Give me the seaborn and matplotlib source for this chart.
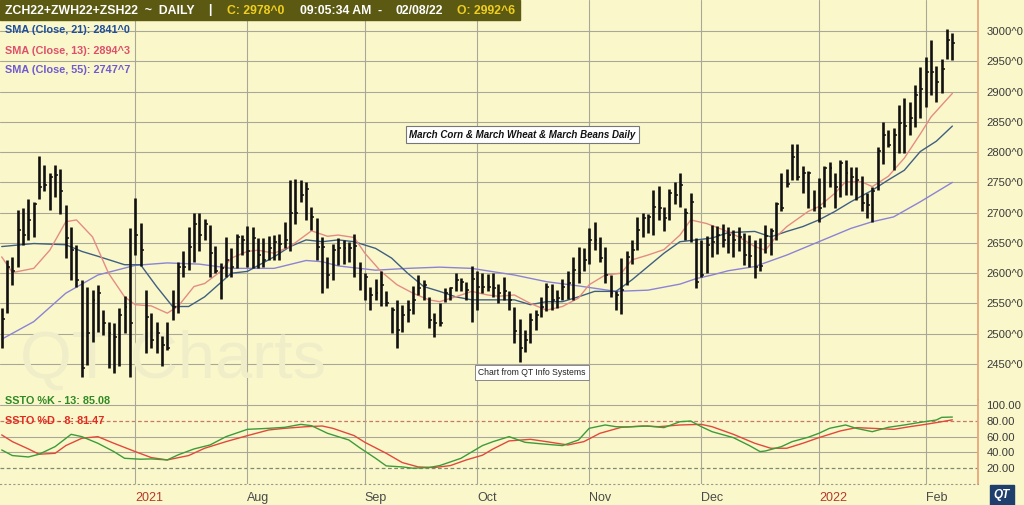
import matplotlib
matplotlib.use("Agg")
import matplotlib.pyplot as plt
from matplotlib.patches import Rectangle
import numpy as np
import seaborn as sns

# daily bars (high / low / close)
highs = [2542, 2622, 2627, 2704, 2707, 2722, 2718, 2794, 2779, 2766,
         2779, 2772, 2713, 2676, 2647, 2589, 2578, 2572, 2581, 2539,
         2520, 2518, 2542, 2562, 2674, 2724, 2683, 2573, 2535, 2520,
         2496, 2520, 2572, 2619, 2636, 2677, 2699, 2699, 2689, 2680,
         2645, 2617, 2659, 2641, 2664, 2663, 2678, 2677, 2658, 2658,
         2661, 2663, 2665, 2684, 2754, 2755, 2754, 2750, 2710, 2691,
         2660, 2627, 2649, 2658, 2655, 2652, 2665, 2619, 2600, 2578,
         2590, 2603, 2570, 2545, 2556, 2548, 2556, 2579, 2597, 2589,
         2561, 2534, 2550, 2575, 2578, 2600, 2592, 2586, 2612, 2604,
         2600, 2599, 2600, 2582, 2594, 2571, 2545, 2524, 2507, 2534,
         2540, 2561, 2583, 2582, 2572, 2591, 2603, 2627, 2643, 2641,
         2674, 2685, 2660, 2644, 2597, 2570, 2625, 2636, 2655, 2693,
         2700, 2698, 2737, 2744, 2710, 2739, 2751, 2766, 2707, 2732,
         2658, 2655, 2661, 2680, 2678, 2682, 2676, 2671, 2677, 2666,
         2663, 2655, 2658, 2680, 2674, 2718, 2765, 2772, 2813, 2813,
         2777, 2769, 2737, 2757, 2777, 2783, 2765, 2787, 2787, 2776,
         2776, 2761, 2732, 2743, 2808, 2849, 2836, 2839, 2878, 2890,
         2882, 2911, 2940, 2957, 2985, 2942, 2953, 3004, 2997]
lows = [2476, 2534, 2581, 2611, 2647, 2655, 2660, 2722, 2735, 2704,
        2726, 2698, 2625, 2589, 2578, 2429, 2448, 2487, 2503, 2498,
        2443, 2435, 2446, 2501, 2429, 2630, 2612, 2469, 2476, 2468,
        2447, 2474, 2523, 2535, 2593, 2606, 2619, 2636, 2655, 2594,
        2601, 2557, 2594, 2594, 2608, 2630, 2611, 2608, 2608, 2611,
        2622, 2622, 2622, 2641, 2637, 2682, 2718, 2688, 2671, 2622,
        2567, 2575, 2589, 2614, 2616, 2619, 2593, 2572, 2556, 2539,
        2555, 2546, 2546, 2501, 2476, 2503, 2520, 2533, 2564, 2556,
        2509, 2495, 2512, 2553, 2556, 2570, 2570, 2556, 2520, 2539,
        2567, 2570, 2561, 2550, 2556, 2540, 2485, 2454, 2470, 2485,
        2506, 2528, 2537, 2539, 2542, 2556, 2557, 2556, 2584, 2603,
        2616, 2638, 2619, 2583, 2561, 2539, 2533, 2581, 2616, 2639,
        2660, 2667, 2663, 2688, 2669, 2688, 2715, 2710, 2655, 2652,
        2575, 2594, 2600, 2627, 2632, 2644, 2633, 2627, 2636, 2614,
        2611, 2592, 2603, 2633, 2630, 2655, 2703, 2743, 2754, 2754,
        2733, 2707, 2703, 2685, 2710, 2743, 2707, 2726, 2729, 2729,
        2721, 2702, 2691, 2684, 2737, 2781, 2808, 2770, 2798, 2799,
        2828, 2842, 2856, 2874, 2894, 2883, 2897, 2953, 2952]
closes = [2525, 2611, 2603, 2671, 2663, 2688, 2715, 2743, 2746, 2759,
          2762, 2735, 2658, 2638, 2589, 2443, 2501, 2556, 2567, 2517,
          2501, 2495, 2531, 2545, 2517, 2663, 2638, 2528, 2490, 2501,
          2481, 2476, 2545, 2611, 2611, 2644, 2682, 2663, 2682, 2633,
          2603, 2608, 2622, 2611, 2660, 2655, 2636, 2658, 2630, 2622,
          2641, 2652, 2649, 2655, 2700, 2699, 2729, 2739, 2692, 2643,
          2643, 2597, 2638, 2641, 2641, 2641, 2645, 2605, 2594, 2564,
          2568, 2581, 2550, 2539, 2506, 2531, 2539, 2556, 2575, 2581,
          2523, 2518, 2517, 2567, 2575, 2588, 2586, 2572, 2591, 2578,
          2578, 2578, 2575, 2567, 2570, 2556, 2505, 2476, 2490, 2523,
          2531, 2545, 2578, 2556, 2559, 2578, 2583, 2605, 2600, 2622,
          2655, 2655, 2625, 2597, 2567, 2564, 2572, 2627, 2638, 2671,
          2691, 2693, 2710, 2707, 2691, 2732, 2729, 2746, 2699, 2718,
          2586, 2597, 2647, 2652, 2663, 2655, 2663, 2655, 2660, 2630,
          2628, 2611, 2612, 2661, 2669, 2715, 2707, 2748, 2792, 2759,
          2765, 2765, 2707, 2707, 2773, 2773, 2743, 2782, 2765, 2759,
          2754, 2716, 2713, 2735, 2801, 2828, 2812, 2828, 2848, 2843,
          2856, 2894, 2905, 2933, 2933, 2916, 2938, 2985, 2981]

# moving averages read at selected bars
sma13_idx = [0, 2, 6, 9, 12, 14, 17, 20, 23, 25, 28, 31, 33, 36, 38, 41, 43, 46,
             48, 51, 54, 58, 61, 63, 66, 68, 71, 74, 77, 80, 82, 85, 88, 91, 93,
             96, 99, 102, 105, 108, 110, 113, 116, 118, 121, 124, 127, 129, 132,
             135, 138, 141, 143, 145, 147, 151, 153, 156, 158, 161, 163, 166,
             169, 172, 174, 178]
sma13_val = [2627, 2601, 2608, 2638, 2685, 2688, 2660, 2600, 2561, 2548, 2546,
             2534, 2545, 2578, 2583, 2603, 2625, 2636, 2638, 2633, 2644, 2670,
             2661, 2663, 2659, 2633, 2603, 2581, 2567, 2556, 2553, 2561, 2570,
             2564, 2562, 2564, 2550, 2539, 2545, 2559, 2581, 2597, 2600, 2622,
             2630, 2639, 2663, 2688, 2682, 2672, 2660, 2644, 2638, 2660, 2677,
             2702, 2710, 2732, 2751, 2751, 2743, 2760, 2790, 2830, 2858, 2897]
sma21_idx = [0, 6, 12, 15, 18, 23, 26, 29, 32, 35, 38, 43, 46, 51, 54, 57, 60,
             63, 66, 70, 73, 76, 79, 82, 85, 88, 91, 96, 99, 102, 105, 108, 111,
             115, 118, 121, 124, 127, 130, 133, 136, 141, 144, 147, 150, 153,
             156, 159, 163, 166, 169, 172, 175, 178]
sma21_val = [2644, 2649, 2647, 2636, 2628, 2614, 2614, 2578, 2545, 2545, 2561,
             2600, 2603, 2627, 2644, 2655, 2652, 2655, 2652, 2641, 2625, 2600,
             2578, 2570, 2561, 2556, 2556, 2556, 2548, 2553, 2553, 2561, 2570,
             2570, 2589, 2611, 2633, 2652, 2655, 2658, 2667, 2669, 2660, 2669,
             2677, 2688, 2702, 2718, 2737, 2754, 2770, 2801, 2818, 2843]
sma55_idx = [0, 6, 12, 18, 25, 31, 37, 43, 51, 57, 60, 63, 70, 76, 82, 88, 96,
             102, 108, 115, 121, 127, 130, 133, 136, 141, 147, 153, 159, 163,
             167, 172, 178]
sma55_val = [2491, 2520, 2567, 2597, 2613, 2617, 2615, 2608, 2608, 2621, 2619,
             2612, 2605, 2608, 2610, 2608, 2597, 2586, 2579, 2570, 2572, 2582,
             2591, 2597, 2604, 2611, 2630, 2652, 2674, 2685, 2693, 2718, 2750]

# slow stochastics
k_idx = [0, 2, 5, 7, 10, 13, 15, 18, 21, 23, 26, 28, 31, 33, 36, 39, 42, 46, 50,
         53, 56, 58, 61, 65, 67, 70, 72, 75, 77, 80, 82, 86, 90, 92, 95, 98,
         102, 105, 108, 110, 113, 115, 117, 121, 124, 127, 129, 131, 133, 137,
         140, 142, 143, 146, 148, 151, 153, 155, 158, 160, 163, 166, 169, 172,
         175, 176, 178]
k_val = [42.8, 35.6, 33.8, 37.3, 47.1, 62.9, 59.9, 51.4, 40.7, 32.1, 30.9,
         31.3, 30.0, 36.4, 44.1, 49.2, 59.9, 69.3, 70.6, 71.9, 75.7, 74.0, 64.2,
         55.6, 45.8, 32.1, 22.3, 21.0, 19.3, 20.2, 22.7, 32.1, 48.4, 53.5, 59.9,
         52.6, 50.1, 48.4, 55.6, 70.6, 74.9, 72.7, 72.3, 73.6, 71.5, 79.1, 80.0,
         72.7, 66.3, 58.6, 48.4, 40.7, 41.5, 47.1, 53.5, 59.1, 64.2, 70.6, 74.9,
         70.6, 66.3, 71.9, 74.9, 78.3, 81.3, 84.7, 85.1]
d_idx = [0, 2, 5, 7, 10, 12, 15, 18, 21, 25, 28, 31, 35, 38, 42, 46, 50, 53,
         57, 60, 62, 66, 68, 72, 75, 78, 81, 84, 87, 90, 92, 95, 99, 102, 106,
         109, 112, 116, 120, 123, 127, 131, 133, 137, 141, 144, 147, 150, 153,
         157, 160, 163, 167, 170, 173, 176, 178]
d_val = [62.1, 53.5, 44.1, 37.3, 38.5, 48.4, 57.8, 59.9, 51.4, 40.7, 33.0,
         30.0, 35.6, 45.0, 53.5, 61.2, 68.5, 70.6, 72.7, 73.6, 70.6, 61.2, 52.6,
         38.5, 26.6, 21.0, 20.2, 22.7, 30.0, 36.0, 44.1, 54.4, 56.5, 53.5, 49.2,
         53.5, 64.2, 71.9, 73.6, 72.7, 74.9, 75.7, 72.7, 62.9, 51.4, 45.0, 45.0,
         51.4, 58.6, 67.2, 71.5, 70.6, 69.3, 72.7, 75.7, 79.1, 81.5]

month_idx = [25, 46, 68, 89, 110, 131, 153, 173]
month_labels = ["2021", "Aug", "Sep", "Oct", "Nov", "Dec", "2022", "Feb"]
price_ticks = [2450, 2500, 2550, 2600, 2650, 2700, 2750, 2800, 2850, 2900, 2950, 3000]
ssto_ticks = [20, 40, 60, 80, 100]

bg = "#FAF8CA"
grid_c = "#A9A796"
W, H = 1024, 505

sns.set_style("white", {"axes.facecolor": bg, "figure.facecolor": bg})
plt.rcParams["font.family"] = ["Liberation Sans", "DejaVu Sans"]

fig = plt.figure(figsize=(W / 100, H / 100), dpi=100, facecolor=bg)


def px_axes(x0, y0, x1, y1):
    return fig.add_axes([x0 / W, 1 - y1 / H, (x1 - x0) / W, (y1 - y0) / H])


def fx(x):
    return x / W


def fy(y):
    return 1 - y / H


ax = px_axes(0, 0, 978, 400)
ax2 = px_axes(0, 400, 978, 484)
xlim = (-0.32, 182.8)

# ---- price panel
ax.set_facecolor(bg)
ax.set_xlim(*xlim)
ax.set_ylim(2390.6, 3051.2)
for t in price_ticks:
    ax.axhline(t, color=grid_c, lw=0.8, zorder=0)
for m in month_idx:
    ax.axvline(m, color=grid_c, lw=0.8, zorder=0)

# faint watermark
ax.text(32, 2428, "QT Charts", fontsize=48, color="#F0EEC8", ha="center",
        va="baseline", zorder=0.5)

bars = np.arange(len(closes))
ax.vlines(bars, lows, highs, color="#111111", lw=1.9, zorder=3)
ax.hlines(closes, bars, bars + 0.55, color="#111111", lw=1.1, zorder=3)

sns.lineplot(x=sma55_idx, y=sma55_val, ax=ax, color="#8C83D6", lw=1.0, zorder=2)
sns.lineplot(x=sma21_idx, y=sma21_val, ax=ax, color="#3F5F82", lw=1.0, zorder=2)
sns.lineplot(x=sma13_idx, y=sma13_val, ax=ax, color="#E48C84", lw=1.0, zorder=2)

ax.yaxis.tick_right()
ax.set_yticks(price_ticks)
ax.set_yticklabels([f"{t}^0" for t in price_ticks], fontsize=8.1, color="#3A3A3A")
ax.tick_params(axis="y", length=0, pad=6)
ax.set_xticks([])
ax.set_xlabel("")
ax.set_ylabel("")
for s in ["top", "left", "bottom"]:
    ax.spines[s].set_visible(False)
ax.spines["right"].set_color("#E8A57C")
ax.spines["right"].set_linewidth(1.3)

ax.text(97.5, 2829, "March Corn & March Wheat & March Beans Daily", fontsize=7,
        fontweight="bold", fontstyle="italic", ha="center", va="center",
        color="#111111", zorder=5,
        bbox=dict(boxstyle="square,pad=0.35", fc="white", ec="#777777", lw=0.8))
ax.text(99.3, 2436, "Chart from QT Info Systems", fontsize=6.2, ha="center",
        va="center", color="#222222", zorder=5,
        bbox=dict(boxstyle="square,pad=0.4", fc="white", ec="#888888", lw=0.7))

# ---- stochastic panel
ax2.set_facecolor(bg)
ax2.set_xlim(*xlim)
ax2.set_ylim(-0.95, 107)
for t in [100, 60, 40]:
    ax2.axhline(t, color=grid_c, lw=0.8, zorder=0)
ax2.axhline(80, color="#C8776A", lw=0.9, ls=(0, (3, 2)), zorder=0)
ax2.axhline(20, color="#7E8A72", lw=0.9, ls=(0, (3, 2)), zorder=0)
for m in month_idx:
    ax2.axvline(m, color=grid_c, lw=0.8, zorder=0)

sns.lineplot(x=d_idx, y=d_val, ax=ax2, color="#E2483C", lw=1.0)
sns.lineplot(x=k_idx, y=k_val, ax=ax2, color="#3E9B3A", lw=1.0)

ax2.yaxis.tick_right()
ax2.set_yticks(ssto_ticks)
ax2.set_yticklabels([f"{t:.2f}" for t in ssto_ticks], fontsize=8.1, color="#3A3A3A")
ax2.tick_params(axis="y", length=0, pad=6)
ax2.set_xticks(month_idx)
ax2.set_xticklabels(month_labels, fontsize=9, ha="left")
ax2.tick_params(axis="x", length=4, width=1, pad=2, color="#444444")
for lab, tk in zip(ax2.get_xticklabels(), ax2.xaxis.get_major_ticks()):
    c = "#B5372E" if lab.get_text().startswith("20") else "#4A4A4A"
    lab.set_color(c)
    tk.tick1line.set_color(c)
ax2.set_xlabel("")
ax2.set_ylabel("")
for s in ["top", "left"]:
    ax2.spines[s].set_visible(False)
ax2.spines["bottom"].set_color("#9A9A8A")
ax2.spines["bottom"].set_linestyle((0, (1, 3)))
ax2.spines["right"].set_color("#E8A57C")
ax2.spines["right"].set_linewidth(1.3)

# ---- header bar and legend texts
fig.patches.append(Rectangle((0, fy(20)), fx(520), 20 / H, transform=fig.transFigure,
                             color="#5C5913", zorder=10))
head = [(5, "ZCH22+ZWH22+ZSH22  ~  DAILY", "white"),
        (208, "|", "white"),
        (227, "C: 2978^0", "#F0CF1E"),
        (300, "09:05:34 AM", "white"),
        (378, "-", "white"),
        (396, "02/08/22", "white"),
        (457, "O: 2992^6", "#F0CF1E")]
for x, s, c in head:
    fig.text(fx(x), fy(10.5), s, color=c, fontsize=8.8, fontweight="bold",
             va="center", ha="left", zorder=11)

legend = [(30, "SMA (Close, 21): 2841^0", "#1F4E9C"),
          (51, "SMA (Close, 13): 2894^3", "#DF4F6C"),
          (70, "SMA (Close, 55): 2747^7", "#7059D2")]
for y, s, c in legend:
    fig.text(fx(5), fy(y), s, color=c, fontsize=7.8, fontweight="bold", va="center")

fig.text(fx(5), fy(401), "SSTO %K - 13: 85.08", color="#2F8A23", fontsize=7.8,
         fontweight="bold", va="center")
fig.text(fx(5), fy(421), "SSTO %D - 8: 81.47", color="#E42A20", fontsize=7.8,
         fontweight="bold", va="center")

fig.text(fx(1002), fy(495), "QT", color="white", fontsize=8.5, fontweight="bold",
         fontstyle="italic", ha="center", va="center",
         bbox=dict(boxstyle="square,pad=0.3", fc="#1E3E6C", ec="#1E3E6C"))

fig.savefig("out.png", dpi=100, facecolor=bg)
